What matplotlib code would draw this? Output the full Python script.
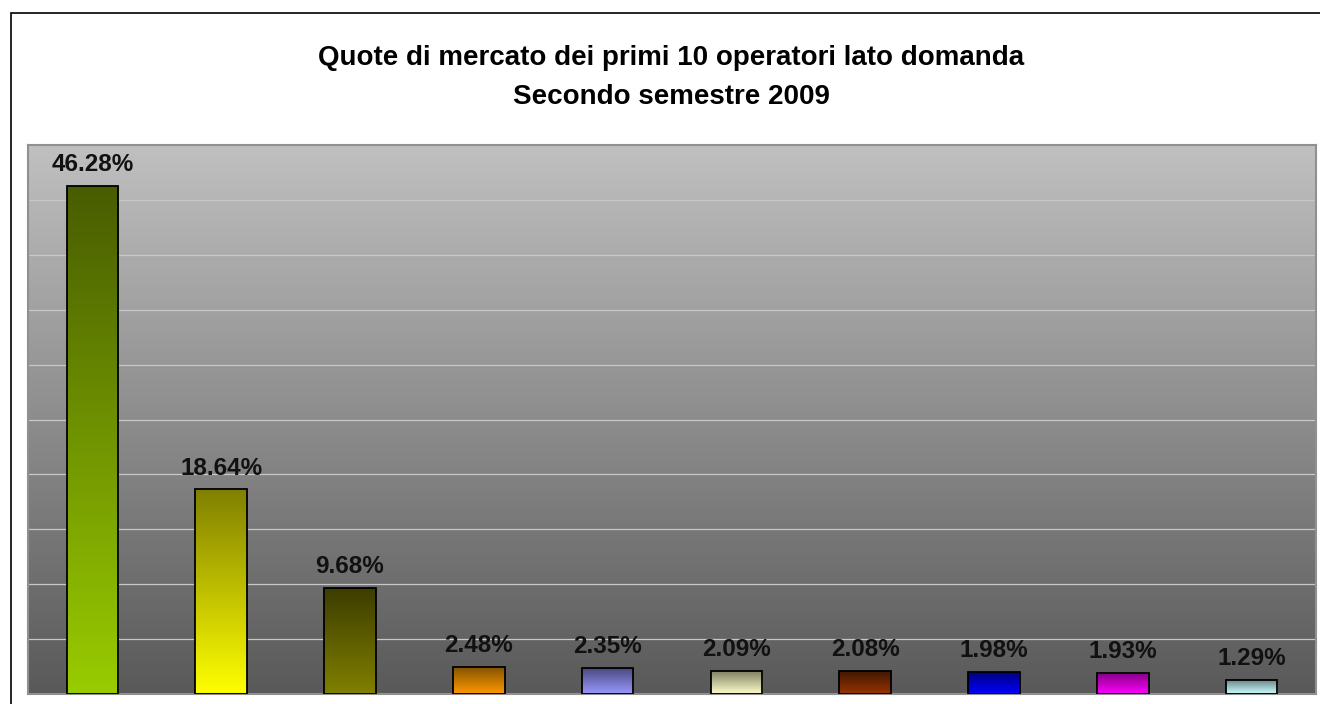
import numpy as np
import matplotlib
matplotlib.use("Agg")
import matplotlib.pyplot as plt
from matplotlib.colors import LinearSegmentedColormap
from matplotlib.patches import Rectangle

plt.rcParams['font.family'] = ['Liberation Sans', 'DejaVu Sans']

# data
quote = [46.28, 18.64, 9.68, 2.48, 2.35, 2.09, 2.08, 1.98, 1.93, 1.29]
# gradient colours for each bar: (top, bottom)
top_col = ['#485c00', '#808000', '#3c3c00', '#805000', '#4a4a80',
           '#808064', '#401800', '#000080', '#800080', '#648080']
bot_col = ['#99cc00', '#ffff00', '#808000', '#ff9900', '#9999ff',
           '#ffffcc', '#993300', '#0000ff', '#ff00ff', '#ccffff']
titolo1 = "Quote di mercato dei primi 10 operatori lato domanda"
titolo2 = "Secondo semestre 2009"

fig = plt.figure(figsize=(13.2, 7.04), dpi=100)
W, H = 1320, 704

# outer chart border (runs off the image on right and bottom)
fig.patches.append(Rectangle((11 / W, -0.05), 1.2, (704 - 13) / H + 0.05,
                             transform=fig.transFigure, fill=False,
                             edgecolor='black', lw=1.2))

ax = fig.add_axes([28 / W, 10 / H, (1316 - 28) / W, (694 - 145) / H])
x = np.arange(len(quote))
ymax = 50
ax.set_xlim(-0.5, len(quote) - 0.5)
ax.set_ylim(0, ymax)

# background gradient
grad = np.linspace(1, 0, 256).reshape(-1, 1)
bg = LinearSegmentedColormap.from_list('bg', ['#595959', '#c0c0c0'])
ax.imshow(grad, extent=[-0.5, len(quote) - 0.5, 0, ymax], origin='upper',
          cmap=bg, aspect='auto', zorder=0)

for g in range(5, ymax, 5):
    ax.axhline(g, color='#c8c8c8', lw=0.9, zorder=1)

bars = ax.bar(x, quote, width=0.4, facecolor='none', edgecolor='black',
              lw=1.3, zorder=3)
for b, v, ct, cb in zip(bars, quote, top_col, bot_col):
    cm = LinearSegmentedColormap.from_list('c', [cb, ct])
    x0 = b.get_x()
    im = ax.imshow(grad, extent=[x0, x0 + b.get_width(), 0, v], origin='upper',
                   cmap=cm, aspect='auto', zorder=2)
    im.set_clip_path(b)
    ax.text(b.get_x() + b.get_width() / 2, v + 1.35, f"{v:.2f}%",
            ha='center', va='baseline', fontsize=17.5, fontweight='bold',
            color='#111111', zorder=4)

ax.set_xlim(-0.5, len(quote) - 0.5)
ax.set_ylim(0, ymax)
ax.set_xticks([])
ax.set_yticks([])
for s in ax.spines.values():
    s.set_color('#909090')
    s.set_linewidth(1.5)

fig.text(671 / W, 1 - 65 / H, titolo1, ha='center', va='baseline',
         fontsize=20, fontweight='bold')
fig.text(671 / W, 1 - 104 / H, titolo2, ha='center', va='baseline',
         fontsize=20, fontweight='bold')

fig.savefig("out.png", dpi=100)
